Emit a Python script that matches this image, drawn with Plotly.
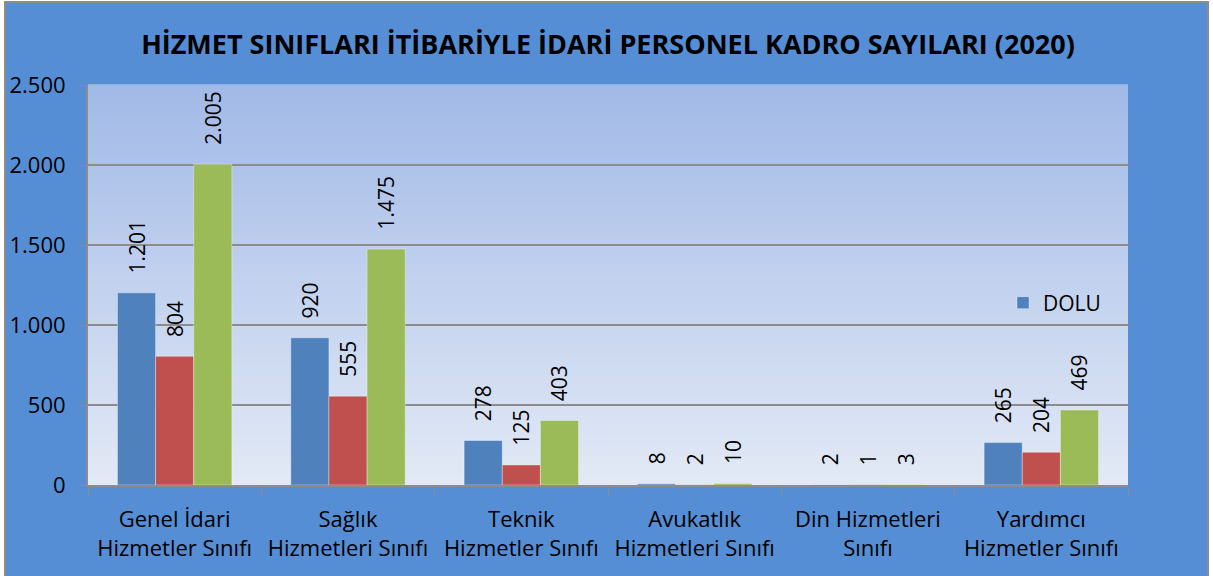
import plotly.graph_objects as go

categories = ["Genel İdari<br>Hizmetler Sınıfı", "Sağlık<br>Hizmetleri Sınıfı", "Teknik<br>Hizmetler Sınıfı",
              "Avukatlık<br>Hizmetleri Sınıfı", "Din Hizmetleri<br>Sınıfı", "Yardımcı<br>Hizmetler Sınıfı"]
dolu = [1201, 920, 278, 8, 2, 265]
bos = [804, 555, 125, 2, 1, 204]
toplam = [2005, 1475, 403, 10, 3, 469]
series_names = ["DOLU", "BOŞ", "TOPLAM"]
colors = ["#4F81BD", "#C0504D", "#9BBB59"]
y_ticks = [0, 500, 1000, 1500, 2000, 2500]

W, H = 1213, 576
ML, MR, MT, MB = 88, 85, 85, 91
PW, PH = W - ML - MR, H - MT - MB

def px_x(p):
    return (p - ML) / PW

def px_y(p):
    return (H - MB - p) / PH

fig = go.Figure()
for name, vals, col in zip(series_names, [dolu, bos, toplam], colors):
    fig.add_trace(go.Bar(
        x=categories, y=vals, name=name,
        marker=dict(color=col, line=dict(color="rgba(255,255,255,0.35)", width=1)),
        text=vals, texttemplate="\u00a0\u00a0\u00a0%{y:,d}", textposition="outside", textangle=-90,
        constraintext="none", cliponaxis=False,
        textfont=dict(family="Open Sans", size=21, color="#000000"),
        showlegend=(name == "DOLU"),
    ))

shapes = []
# outer chart background with border
shapes.append(dict(type="rect", xref="paper", yref="paper", layer="below",
                   x0=px_x(5), x1=px_x(1208), y0=px_y(590), y1=px_y(2),
                   fillcolor="#558ED5", line=dict(color="#8C8C8C", width=2)))
# plot area gradient
top = (0xA2, 0xBA, 0xE7)
bot = (0xE2, 0xE9, 0xF6)
n = 40
for i in range(n):
    t = i / (n - 1)
    c = tuple(int(round(bot[k] + (top[k] - bot[k]) * t)) for k in range(3))
    shapes.append(dict(type="rect", xref="paper", yref="paper", layer="below",
                       x0=0, x1=1, y0=i / n, y1=(i + 1) / n + 0.002,
                       fillcolor="rgb(%d,%d,%d)" % c, line=dict(width=0)))

fig.update_layout(
    width=W, height=H,
    margin=dict(l=ML, r=MR, t=MT, b=MB, autoexpand=False),
    paper_bgcolor="#FFFFFF", plot_bgcolor="rgba(0,0,0,0)",
    separators=",.",
    barmode="group", bargap=0.34, bargroupgap=0,
    shapes=shapes,
    title=dict(text="<b>HİZMET SINIFLARI İTİBARİYLE İDARİ PERSONEL KADRO SAYILARI (2020)</b>",
               x=0.5, xref="paper", xanchor="center", y=1 - 45 / H, yanchor="middle",
               font=dict(family="Open Sans", size=27, color="#000000")),
    font=dict(family="Open Sans", color="#000000"),
    legend=dict(x=px_x(1106), xanchor="right", y=px_y(303), yanchor="middle",
                bgcolor="rgba(0,0,0,0)", font=dict(size=21, family="Open Sans"),
                itemwidth=30),
    xaxis=dict(type="category", ticks="outside", tickson="boundaries", ticklen=9,
               tickcolor="#8C8C8C", showline=True, linecolor="#8C8C8C", linewidth=2,
               tickfont=dict(size=22, family="Open Sans"), showgrid=False,
               tickangle=0, ticklabelstandoff=14),
    yaxis=dict(range=[0, 2500], tickvals=y_ticks, tickformat=",d", ticks="outside",
               ticklen=8, tickcolor="#8C8C8C", showline=True, linecolor="#8C8C8C", linewidth=2,
               showgrid=True, gridcolor="#8C8C8C", gridwidth=1.5, zeroline=False,
               tickfont=dict(size=22, family="Open Sans"), ticklabelstandoff=8),
)

fig.write_html("out.html", config={"displayModeBar": False},
               post_script="document.body.style.margin='0';")
